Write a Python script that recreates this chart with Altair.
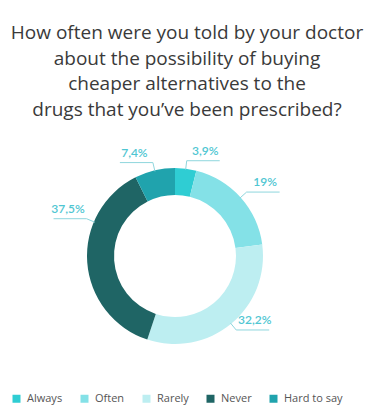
import altair as alt
import pandas as pd

W, H = 378, 418

categories = ["Always", "Often", "Rarely", "Never", "Hard to say"]
values = [3.9, 19.0, 32.2, 37.5, 7.4]
labels = ["3,9%", "19%", "32,2%", "37,5%", "7,4%"]
colors = ["#2fcdd3", "#84e1e7", "#bdeef1", "#1f6565", "#20a3ad"]
title_lines = [
    "How often were you told by your doctor",
    "about the possibility of buying",
    "cheaper alternatives to the",
    "drugs that you\u2019ve been prescribed?",
]

# layout constants
CX, CY = 175, 256
R_IN, R_OUT = 61, 88
R_ELBOW = 96
LEADER = 33
LABEL_SHIFT_DEG = {"Never": 27}

df = pd.DataFrame({
    "category": categories,
    "value": values,
    "label": labels,
    "order": list(range(len(categories))),
})

shift_expr = " : ".join(
    [f"datum.category === '{k}' ? {v} * PI / 180" for k, v in LABEL_SHIFT_DEG.items()] + ["0"]
)

color_scale = alt.Scale(domain=categories, range=colors)

arcs = alt.Chart(df).mark_arc(innerRadius=R_IN, outerRadius=R_OUT).encode(
    theta=alt.Theta("value:Q", stack=True),
    color=alt.Color(
        "category:N",
        scale=color_scale,
        sort=categories,
        legend=alt.Legend(
            title=None,
            orient="none",
            legendX=11,
            legendY=393,
            direction="horizontal",
            columns=5,
            symbolType="square",
            symbolSize=64,
            symbolStrokeWidth=0,
            columnPadding=16,
            labelOffset=5,
            labelFont="Open Sans",
            labelFontSize=11,
            labelColor="#555555",
        ),
    ),
    order=alt.Order("order:Q"),
    x=alt.value(CX),
    y=alt.value(CY),
)

xs = alt.Scale(domain=[0, W], range=[0, W])
ys = alt.Scale(domain=[0, H], range=[0, H])

geo = alt.Chart(df).transform_joinaggregate(
    total="sum(value)"
).transform_window(
    cum="sum(value)", sort=[alt.SortField("order")], frame=[None, 0]
).transform_calculate(
    a=f"2*PI*(datum.cum - datum.value/2)/datum.total + ({shift_expr})"
).transform_calculate(
    side="sin(datum.a) >= 0 ? 1 : -1",
    x0=f"{CX} + {R_OUT - 1}*sin(datum.a)",
    y0=f"{CY} - {R_OUT - 1}*cos(datum.a)",
    x1=f"{CX} + {R_ELBOW}*sin(datum.a)",
    y1=f"{CY} - {R_ELBOW}*cos(datum.a)",
).transform_calculate(
    x2=f"datum.x1 + datum.side*{LEADER}",
    xt=f"datum.x1 + datum.side*({LEADER}/2 + 2)",
    yt="datum.y1 - 3",
)

lead1 = geo.mark_rule(color="#8fd6dd", strokeWidth=1).encode(
    x=alt.X("x0:Q", scale=xs, axis=None),
    y=alt.Y("y0:Q", scale=ys, axis=None),
    x2="x1:Q",
    y2="y1:Q",
)
lead2 = geo.mark_rule(color="#8fd6dd", strokeWidth=1).encode(
    x=alt.X("x1:Q", scale=xs, axis=None),
    y=alt.Y("y1:Q", scale=ys, axis=None),
    x2="x2:Q",
)
txt = geo.mark_text(
    font="Lato", fontSize=12, fontWeight=600, color="#4fc6d2", baseline="bottom", align="center"
).encode(
    x=alt.X("xt:Q", scale=xs, axis=None),
    y=alt.Y("yt:Q", scale=ys, axis=None),
    text="label:N",
)

title = alt.Chart(pd.DataFrame({"t": ["\n".join(title_lines)]})).mark_text(
    font="Open Sans",
    fontSize=19,
    color="#3a3a3a",
    align="center",
    baseline="alphabetic",
    lineBreak="\n",
    lineHeight=25.7,
).encode(
    text="t:N",
    x=alt.value(187),
    y=alt.value(39),
)

chart = alt.layer(arcs, lead1, lead2, txt, title).properties(
    width=W, height=H, autosize=alt.AutoSizeParams(type="none"), padding=0
).configure_view(strokeWidth=0).resolve_scale(x="shared", y="shared")

chart.save("out.html", embed_options={"renderer": "svg", "actions": False})
